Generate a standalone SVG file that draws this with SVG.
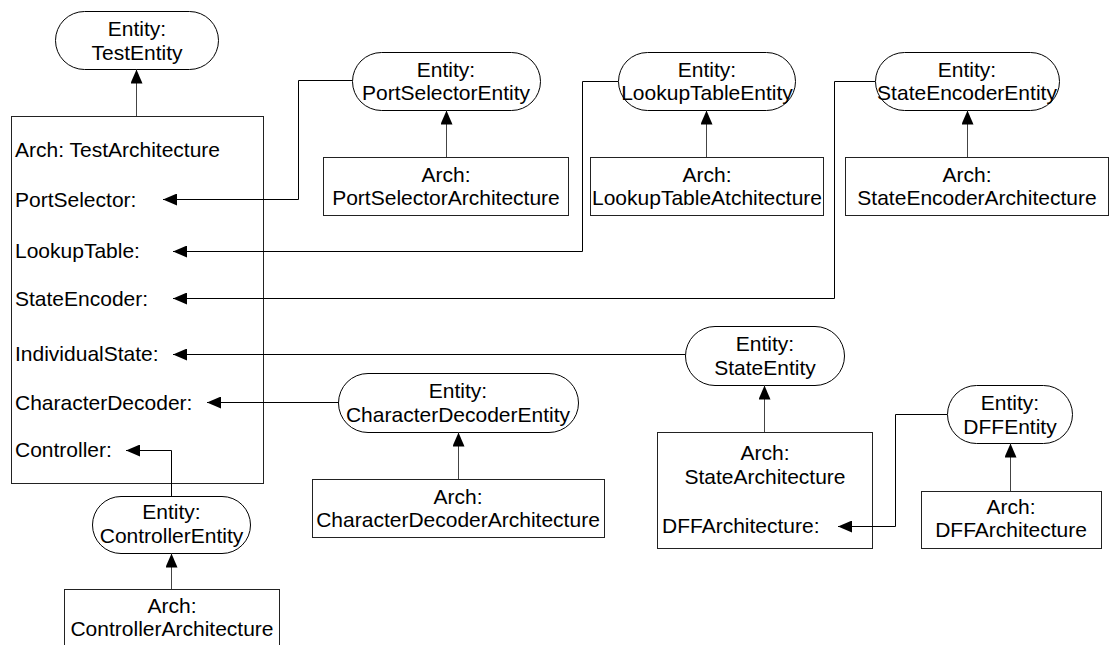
<svg xmlns="http://www.w3.org/2000/svg" width="1111" height="645" viewBox="0 0 1111 645">
<style>
.bg{fill:#fff}
.ent{fill:#fff;stroke:#000;stroke-width:1}
.arch{fill:#fff;stroke:#222;stroke-width:1}
.t{font-family:"Liberation Sans",Arial,sans-serif;font-size:21px;fill:#000}
.c{text-anchor:middle}
.conn{fill:none;stroke:#000;stroke-width:1}
.inh{fill:none;stroke:#444;stroke-width:1}
</style>
<defs>
<marker id="ah" markerUnits="userSpaceOnUse" markerWidth="14" markerHeight="12" refX="14" refY="6" orient="auto">
<path d="M0,0 L14,6 L0,12 z" fill="#000"/>
</marker>
</defs>
<rect class="bg" x="0" y="0" width="1111" height="645"/>

<g id="TestEntity">
<rect class="ent" x="55.5" y="11.5" width="163" height="58" rx="29"/>
<text class="t c" x="137" y="36">Entity:</text>
<text class="t c" x="137" y="60">TestEntity</text>
</g>
<g id="TestArchitecture">
<rect class="arch" x="11.5" y="116.5" width="252" height="367"/>
<text class="t" x="15" y="157">Arch: TestArchitecture</text>
<text class="t" x="15" y="207">PortSelector:</text>
<text class="t" x="15" y="258">LookupTable:</text>
<text class="t" x="15" y="306">StateEncoder:</text>
<text class="t" x="15" y="361">IndividualState:</text>
<text class="t" x="15" y="410">CharacterDecoder:</text>
<text class="t" x="15" y="457">Controller:</text>
</g>
<g id="PortSelectorEntity">
<rect class="ent" x="352.5" y="52.5" width="188" height="58" rx="29"/>
<text class="t c" x="446" y="77">Entity:</text>
<text class="t c" x="446" y="100">PortSelectorEntity</text>
</g>
<g id="PortSelectorArchitecture">
<rect class="arch" x="323.5" y="157.5" width="245" height="58"/>
<text class="t c" x="446" y="182">Arch:</text>
<text class="t c" x="446" y="205">PortSelectorArchitecture</text>
</g>
<g id="LookupTableEntity">
<rect class="ent" x="618.5" y="52.5" width="177" height="58" rx="29"/>
<text class="t c" x="707" y="77">Entity:</text>
<text class="t c" x="707" y="100">LookupTableEntity</text>
</g>
<g id="LookupTableAtchitecture">
<rect class="arch" x="590.5" y="157.5" width="233" height="58"/>
<text class="t c" x="707" y="182">Arch:</text>
<text class="t c" x="707" y="205">LookupTableAtchitecture</text>
</g>
<g id="StateEncoderEntity">
<rect class="ent" x="875.5" y="52.5" width="184" height="58" rx="29"/>
<text class="t c" x="967" y="77">Entity:</text>
<text class="t c" x="967" y="100">StateEncoderEntity</text>
</g>
<g id="StateEncoderArchitecture">
<rect class="arch" x="845.5" y="157.5" width="263" height="58"/>
<text class="t c" x="967" y="182">Arch:</text>
<text class="t c" x="977" y="205">StateEncoderArchitecture</text>
</g>
<g id="StateEntity">
<rect class="ent" x="685.5" y="326.5" width="159" height="59" rx="29.5"/>
<text class="t c" x="765" y="351">Entity:</text>
<text class="t c" x="765" y="375">StateEntity</text>
</g>
<g id="StateArchitecture">
<rect class="arch" x="657.5" y="432.5" width="215" height="116"/>
<text class="t c" x="765" y="460">Arch:</text>
<text class="t c" x="765" y="484">StateArchitecture</text>
<text class="t" x="662" y="533">DFFArchitecture:</text>
</g>
<g id="DFFEntity">
<rect class="ent" x="947.5" y="385.5" width="125" height="58" rx="29"/>
<text class="t c" x="1010" y="410">Entity:</text>
<text class="t c" x="1010" y="434">DFFEntity</text>
</g>
<g id="DFFArchitecture">
<rect class="arch" x="921.5" y="491.5" width="180" height="57"/>
<text class="t c" x="1011" y="514">Arch:</text>
<text class="t c" x="1011" y="537">DFFArchitecture</text>
</g>
<g id="CharacterDecoderEntity">
<rect class="ent" x="338.5" y="373.5" width="240" height="59" rx="29.5"/>
<text class="t c" x="458" y="398">Entity:</text>
<text class="t c" x="458" y="422">CharacterDecoderEntity</text>
</g>
<g id="CharacterDecoderArchitecture">
<rect class="arch" x="312.5" y="479.5" width="292" height="58"/>
<text class="t c" x="458" y="504">Arch:</text>
<text class="t c" x="458" y="527">CharacterDecoderArchitecture</text>
</g>
<g id="ControllerEntity">
<rect class="ent" x="92.5" y="496.5" width="158" height="57" rx="28.5"/>
<text class="t c" x="171.5" y="519">Entity:</text>
<text class="t c" x="171.5" y="543">ControllerEntity</text>
</g>
<g id="ControllerArchitecture">
<rect class="arch" x="64.5" y="589.5" width="215" height="70"/>
<text class="t c" x="172" y="613">Arch:</text>
<text class="t c" x="172" y="636">ControllerArchitecture</text>
</g>

<g id="connectors">
<path class="inh" d="M136.5,116 V69.5" marker-end="url(#ah)"/>
<path class="inh" d="M446.5,157 V110.5" marker-end="url(#ah)"/>
<path class="inh" d="M706.5,157 V110.5" marker-end="url(#ah)"/>
<path class="inh" d="M967.5,157 V110.5" marker-end="url(#ah)"/>
<path class="inh" d="M764.5,432 V385.5" marker-end="url(#ah)"/>
<path class="inh" d="M1010.5,491 V443.5" marker-end="url(#ah)"/>
<path class="inh" d="M458.5,479 V432.5" marker-end="url(#ah)"/>
<path class="inh" d="M171.5,589 V553.5" marker-end="url(#ah)"/>
<path class="conn" d="M352,80.5 H298.5 V199.5 H163" marker-end="url(#ah)"/>
<path class="conn" d="M618,81.5 H582.5 V251.5 H173" marker-end="url(#ah)"/>
<path class="conn" d="M875,81.5 H834.5 V298.5 H173" marker-end="url(#ah)"/>
<path class="conn" d="M685,354.5 H173" marker-end="url(#ah)"/>
<path class="conn" d="M338,402.5 H207" marker-end="url(#ah)"/>
<path class="conn" d="M171.5,496 V450.5 H126" marker-end="url(#ah)"/>
<path class="conn" d="M947,414.5 H895.5 V526.5 H838" marker-end="url(#ah)"/>
</g>
</svg>
